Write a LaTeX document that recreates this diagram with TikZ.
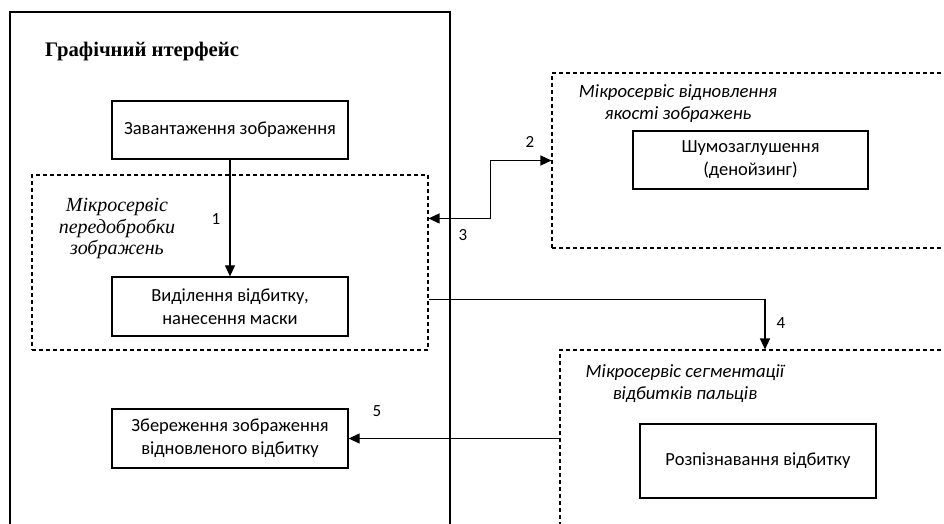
\documentclass[tikz,border=0pt]{standalone}
\usepackage{fontspec}
\setmainfont{Liberation Serif}
\newfontfamily\calib{Carlito}
\usetikzlibrary{arrows.meta,calc}
\begin{document}
\begin{tikzpicture}[x=1pt,y=-1pt,
  box/.style={draw,line width=1.3pt,inner sep=0pt,align=center,font=\calib\fontsize{18.5}{23}\selectfont},
  dbox/.style={draw,line width=1.1pt,dash pattern=on 4pt off 3pt,inner sep=0pt},
  conn/.style={line width=1.2pt,-{Triangle[length=11pt,width=10pt]}},
  conn2/.style={line width=1.2pt,{Triangle[length=11pt,width=10pt]}-{Triangle[length=11pt,width=10pt]}},
  num/.style={font=\calib\fontsize{17}{19}\selectfont,inner sep=0pt},
  ilab/.style={font=\calib\itshape\fontsize{18.7}{22}\selectfont,align=center,inner sep=0pt},
  slab/.style={font=\itshape\fontsize{20}{21.5}\selectfont,align=center,inner sep=0pt}]
\clip (0,0) rectangle (944,524);
\fill[white] (0,0) rectangle (944,524);
% main frame
\draw[line width=1.3pt] (10,540) coordinate (mf1) -- (10,12) -- (450,12) -- (450,540);
\node[anchor=west,inner sep=0pt,font=\bfseries\fontsize{20.7}{22}\selectfont] (title) at (45,52) {Графічний нтерфейс};
% dashed regions
\node[dbox,minimum width=396pt,minimum height=175pt] (pre) at (230,262.5) {};
\node[dbox,minimum width=408pt,minimum height=175pt] (qual) at (756,160.5) {};
\node[dbox,minimum width=400pt,minimum height=190pt] (seg) at (760,445) {};
% labels of regions
\node[slab] (prelab) at (117,229) {Мікросервіс\\передобробки\\зображень};
\node[ilab] (quallab) at (678,104) {Мікросервіс відновлення\\якості зображень};
\node[ilab] (seglab) at (685,384) {Мікросервіс сегментації\\відбитків пальців};
% boxes
\node[box,minimum width=236pt,minimum height=58pt] (zav) at (230,130) {Завантаження зображення};
\node[box,minimum width=236pt,minimum height=59pt] (vid) at (230,306.5) {Виділення відбитку,\\нанесення маски};
\node[box,minimum width=236pt,minimum height=59pt] (zber) at (230,438.5) {Збереження зображення\\відновленого відбитку};
\node[box,minimum width=235pt,minimum height=58pt] (shum) at (750.5,160) {Шумозаглушення\\(денойзинг)};
\node[box,minimum width=236pt,minimum height=74pt] (rozp) at (758,461) {Розпізнавання відбитку};
% connectors
\draw[conn] (zav.south) -- (vid.north);
\draw[conn2] ([yshift=-44pt]pre.north east) -- ++(62,0) |- (qual.west);
\draw[conn] ([yshift=51pt]pre.south east) -| ([xshift=5pt]seg.north);
\draw[conn] (seg.west |- zber.east) -- (zber.east);
% numbers
\node[num] (n1) at (216,219) {1};
\node[num] (n2) at (530,142) {2};
\node[num] (n3) at (463,235) {3};
\node[num] (n4) at (781,323) {4};
\node[num] (n5) at (377,411) {5};
\end{tikzpicture}
\end{document}
